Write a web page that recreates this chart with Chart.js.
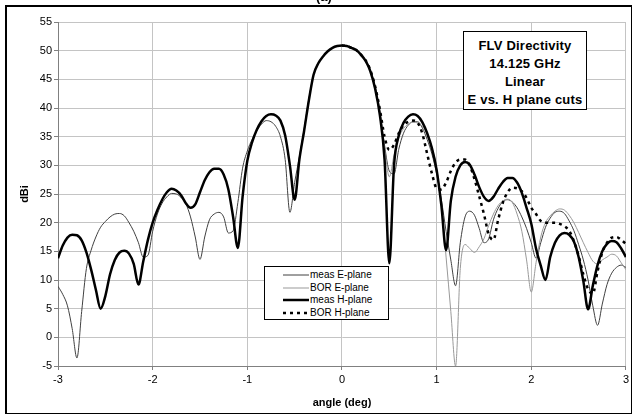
<!DOCTYPE html>
<html>
<head>
<meta charset="utf-8">
<script src="https://cdn.jsdelivr.net/npm/chart.js@4.4.1/dist/chart.umd.min.js"></script>
<style>
  body { margin: 0; background: #fff; }
  #wrap { position: relative; width: 632px; height: 414px; overflow: hidden; font-family: "Liberation Sans", Arial, sans-serif; }
  #frame { position: absolute; left: 5px; top: 5px; width: 624px; height: 406px; border: 2px solid #000; pointer-events: none; }
  #tag { position: absolute; left: 316px; top: -11px; font-size: 13px; font-weight: bold; }
  #legend { position: absolute; left: 264px; top: 266px; width: 123px; height: 52px; border: 1px solid #000; background: #fff; font-size: 10px; }
  .row { position: absolute; left: 0; height: 12px; line-height: 12px; white-space: nowrap; }
  .row svg { position: absolute; left: 18px; top: 4px; }
  .row span { position: absolute; left: 45px; top: 0; }
  #note { position: absolute; left: 463px; top: 31px; width: 122px; height: 72px; border: 1px solid #000; background: #fff;
          font-size: 13px; font-weight: bold; text-align: center; line-height: 18px; padding-top: 5px; letter-spacing: 0.2px; white-space: nowrap; }
</style>
</head>
<body>
<div id="wrap">
  <canvas id="c" width="632" height="414"></canvas>
  <div id="tag">(a)</div>
  <div id="legend"></div>
  <div id="note">FLV Directivity<br>14.125 GHz<br>Linear<br>E vs. H plane cuts</div>
  <div id="frame"></div>
</div>
<script>
const angles = [
  -3, -2.95, -2.9, -2.85, -2.8, -2.75, -2.7, -2.65, -2.6, -2.55,
  -2.5, -2.45, -2.4, -2.35, -2.3, -2.25, -2.2, -2.15, -2.1, -2.05,
  -2, -1.95, -1.9, -1.85, -1.8, -1.75, -1.7, -1.65, -1.6, -1.55,
  -1.5, -1.45, -1.4, -1.35, -1.3, -1.25, -1.2, -1.15, -1.1, -1.05,
  -1, -0.95, -0.9, -0.85, -0.8, -0.75, -0.7, -0.65, -0.6, -0.55,
  -0.5, -0.45, -0.4, -0.35, -0.3, -0.25, -0.2, -0.15, -0.1, -0.05,
  0, 0.05, 0.1, 0.15, 0.2, 0.25, 0.3, 0.35, 0.4, 0.45,
  0.5, 0.55, 0.6, 0.65, 0.7, 0.75, 0.8, 0.85, 0.9, 0.95,
  1, 1.05, 1.1, 1.15, 1.2, 1.25, 1.3, 1.35, 1.4, 1.45,
  1.5, 1.55, 1.6, 1.65, 1.7, 1.75, 1.8, 1.85, 1.9, 1.95,
  2, 2.05, 2.1, 2.15, 2.2, 2.25, 2.3, 2.35, 2.4, 2.45,
  2.5, 2.55, 2.6, 2.65, 2.7, 2.75, 2.8, 2.85, 2.9, 2.95,
  3
];

// measured cuts, -3 .. 3 deg
const measE = [
  8.9, 7.5, 5.5, 1.5, -3.6, 4.5, 12.0, 15.2, 17.5, 19.2,
  20.2, 21.0, 21.5, 21.6, 21.2, 20.0, 18.5, 16.5, 14.0, 14.3,
  18.5, 21.5, 23.4, 24.5, 25.1, 25.0, 24.4, 23.3, 21.0, 17.5,
  13.6, 17.5, 20.5, 21.5, 21.8, 21.0, 18.2, 18.6, 23.5, 29.5,
  32.5, 34.5, 36.0, 37.2, 37.8, 37.6, 36.8, 35.0, 31.0, 21.8,
  27.0, 31.5, 36.3, 41.6, 45.8, 47.8, 49.0, 49.9, 50.5, 50.8,
  50.9, 50.8, 50.5, 50.1, 49.4, 48.3, 46.6, 43.8, 39.5, 33.5,
  29.0, 28.5, 32.8, 35.6, 37.0, 37.6, 37.6, 36.5, 34.5, 32.0,
  28.5, 24.0, 18.5, 13.5, 9.0, 16.5, 21.0, 22.0, 21.3, 19.0,
  16.5, 17.2, 20.5, 22.5, 23.7, 24.0, 23.6, 22.6, 21.0, 19.0,
  16.5, 13.8, 16.5, 19.2, 20.8, 21.8, 22.0, 21.6, 20.3, 18.6,
  16.2, 13.5, 10.0, 5.5, 2.1, 5.8, 9.2, 11.2, 12.2, 12.6,
  12.2
];
const measH = [
  13.8, 16.0, 17.4, 17.9, 17.8, 16.9, 14.8, 11.8, 8.3, 5.0,
  7.2, 11.0, 13.5, 14.8, 15.1, 14.6, 12.8, 9.2, 13.2, 17.0,
  20.0, 22.2, 24.0, 25.3, 25.9, 25.6, 24.8, 23.4, 22.6, 23.2,
  25.3, 27.4, 28.8, 29.4, 29.4, 28.4, 25.8, 21.0, 15.6, 24.5,
  30.8, 34.0, 36.2, 37.7, 38.6, 38.9, 38.7, 37.8, 35.2, 30.0,
  24.0, 31.0, 36.0, 41.3, 45.8, 47.8, 49.0, 49.9, 50.5, 50.8,
  50.9, 50.8, 50.5, 50.1, 49.3, 48.2, 46.4, 43.4, 38.8, 31.0,
  12.9, 30.0, 35.2, 37.4, 38.5, 38.9, 38.6, 37.5, 35.6, 33.0,
  29.2, 23.0, 15.2, 23.8, 28.0, 30.0, 30.6, 30.1, 28.4, 26.2,
  24.5, 23.8, 24.5, 25.9, 27.1, 27.8, 27.8, 27.0, 25.2, 22.6,
  19.8, 15.5, 12.5, 10.0, 14.0, 16.5, 17.8, 18.2, 17.9, 16.7,
  14.0, 9.8, 4.9, 9.0, 12.6, 15.0, 16.3, 16.8, 16.6, 15.5,
  14.0
];

// BOR computed cuts, 0 .. 3 deg
const borE = [
  50.9, 50.8, 50.5, 50.1, 49.4, 48.3, 46.6, 43.6, 39.3, 33.0,
  28.0, 31.8, 34.8, 36.4, 37.2, 37.5, 37.4, 36.8, 35.5, 33.2,
  29.5, 23.0, 14.0, 4.5, -5.0, 12.0, 16.2, 15.5, 14.8, 15.8,
  17.2, 19.5, 21.5, 23.0, 23.8, 24.1, 23.5, 21.5, 18.5, 13.5,
  7.9, 13.0, 17.5, 20.0, 21.2, 22.0, 22.4, 22.2, 21.3, 20.0,
  18.3, 16.5, 14.8, 13.3, 12.8, 13.5, 14.0, 14.5, 14.2, 13.0,
  11.8
];
const borH = [
  50.9, 50.8, 50.5, 50.1, 49.3, 48.3, 46.6, 43.8, 39.8, 35.0,
  32.7, 33.6, 35.6, 37.0, 37.6, 37.8, 37.4, 35.5, 32.0, 28.6,
  26.0, 25.8, 27.0, 29.0, 30.5, 31.0, 31.0, 30.0, 27.6, 24.6,
  21.5, 18.0, 17.0, 20.5, 23.5, 25.3, 26.1, 26.0, 25.5, 24.3,
  22.6, 21.5, 20.3, 20.0, 20.0, 20.0, 19.8, 19.4, 18.6, 16.8,
  14.2, 11.0, 8.4, 7.6, 11.5, 14.8, 16.5, 17.4, 17.5, 17.0,
  16.3
];

const xTicks = [-3, -2, -1, 0, 1, 2, 3];
const yTicks = [-5, 0, 5, 10, 15, 20, 25, 30, 35, 40, 45, 50, 55];

const posAngles = angles.filter((a) => a >= 0);
const pts = (xs, ys) => xs.map((x, i) => ({ x, y: ys[i] }));

const series = [
  { label: "meas E-plane", data: pts(angles, measE), color: "#404040", width: 1, dash: [], order: 4 },
  { label: "BOR E-plane", data: pts(posAngles, borE), color: "#999999", width: 1, dash: [], order: 3 },
  { label: "meas H-plane", data: pts(angles, measH), color: "#000000", width: 2.5, dash: [], order: 2 },
  { label: "BOR H-plane", data: pts(posAngles, borH), color: "#000000", width: 2.5, dash: [3, 4], order: 1 },
];

const font = "'Liberation Sans', Arial, sans-serif";
Chart.defaults.font.family = font;
Chart.defaults.color = "#000";

new Chart(document.getElementById("c"), {
  type: "line",
  data: {
    datasets: series.map((s) => ({
      label: s.label,
      data: s.data,
      borderColor: s.color,
      borderWidth: s.width,
      borderDash: s.dash,
      pointRadius: 0,
      fill: false,
      cubicInterpolationMode: "monotone",
      order: s.order,
    })),
  },
  options: {
    responsive: false,
    animation: false,
    devicePixelRatio: 1,
    layout: { padding: { left: 6, right: 6, top: 22, bottom: 4 } },
    plugins: { legend: { display: false }, tooltip: { enabled: false } },
    scales: {
      x: {
        type: "linear",
        min: -3,
        max: 3,
        afterBuildTicks: (s) => { s.ticks = xTicks.map((v) => ({ value: v })); },
        afterFit: (s) => { s.height = 44; },
        ticks: { font: { size: 11 }, padding: 3, maxRotation: 0 },
        grid: { color: "#c4c4c4", tickColor: "#808080", tickLength: 4 },
        border: { color: "#808080" },
        title: { display: true, text: "angle (deg)", font: { size: 11, weight: "bold" }, padding: { top: 0, bottom: 0 } },
      },
      y: {
        min: -5,
        max: 55,
        afterBuildTicks: (s) => { s.ticks = yTicks.map((v) => ({ value: v })); },
        afterFit: (s) => { s.width = 52; },
        ticks: { font: { size: 11 }, padding: 2 },
        grid: { color: "#c4c4c4", tickColor: "#808080", tickLength: 4 },
        border: { color: "#808080" },
        title: { display: true, text: "dBi", font: { size: 11, weight: "bold" }, padding: { top: 12, bottom: 0 } },
      },
    },
  },
});

// legend box
const legend = document.getElementById("legend");
series.forEach((s, i) => {
  const row = document.createElement("div");
  row.className = "row";
  row.style.top = (2 + i * 12.6) + "px";
  row.style.width = "123px";
  row.innerHTML =
    `<svg width="26" height="4"><line x1="0" y1="2" x2="26" y2="2" stroke="${s.color}" stroke-width="${s.width}" stroke-dasharray="${s.dash.join(" ")}"/></svg>` +
    `<span>${s.label}</span>`;
  legend.appendChild(row);
});
</script>
</body>
</html>
